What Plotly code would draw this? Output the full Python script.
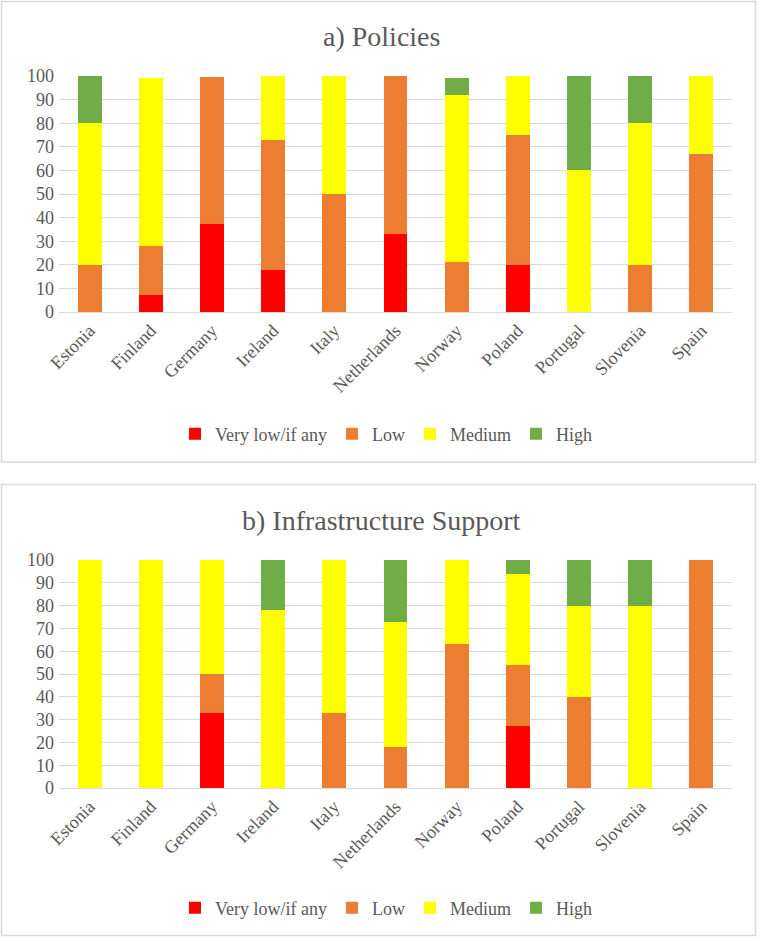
import plotly.graph_objects as go

countries = ["Estonia", "Finland", "Germany", "Ireland", "Italy", "Netherlands",
             "Norway", "Poland", "Portugal", "Slovenia", "Spain"]
levels = ["Very low/if any", "Low", "Medium", "High"]
colors = ["#FF0000", "#ED7D31", "#FFFF00", "#70AD47"]

# a) Policies
pol_very_low = [0, 7, 37.5, 18, 0, 33, 0, 20, 0, 0, 0]
pol_low = [20, 21, 62, 55, 50, 67, 21, 55, 0, 20, 67]
pol_medium = [60, 71, 0, 27, 50, 0, 71, 25, 60, 60, 33]
pol_high = [20, 0, 0, 0, 0, 0, 7, 0, 40, 20, 0]

# b) Infrastructure Support
inf_very_low = [0, 0, 33, 0, 0, 0, 0, 27, 0, 0, 0]
inf_low = [0, 0, 17, 0, 33, 18, 63, 27, 40, 0, 100]
inf_medium = [100, 100, 50, 78, 67, 55, 37, 40, 40, 80, 0]
inf_high = [0, 0, 0, 22, 0, 27, 0, 6, 20, 20, 0]

y_ticks = list(range(0, 101, 10))

W, H = 762, 941
FONT = "Liberation Serif, Times New Roman, serif"
TXT = "#595959"
GRID = "#D9D9D9"

fig = go.Figure()

pol = [pol_very_low, pol_low, pol_medium, pol_high]
inf = [inf_very_low, inf_low, inf_medium, inf_high]
for name, vals, col in zip(levels, pol, colors):
    fig.add_trace(go.Bar(x=countries, y=vals, name=name, marker=dict(color=col, line=dict(width=0)),
                         xaxis="x", yaxis="y", legend="legend"))
for name, vals, col in zip(levels, inf, colors):
    fig.add_trace(go.Bar(x=countries, y=vals, name=name, marker=dict(color=col, line=dict(width=0)),
                         xaxis="x2", yaxis="y2", legend="legend2"))

def py(p):
    return 1 - p / H

def px(p):
    return p / W

xdom = [px(59), px(732)]
axis_common = dict(tickfont=dict(family=FONT, size=18, color=TXT), automargin=False)

fig.update_layout(
    width=W, height=H,
    margin=dict(l=0, r=0, t=0, b=0, pad=0, autoexpand=False),
    paper_bgcolor="white", plot_bgcolor="white",
    barmode="stack", bargap=0.61,
    font=dict(family=FONT, color=TXT),
    showlegend=True,
    xaxis=dict(domain=xdom, anchor="y", tickangle=-45, showline=True, linecolor=GRID,
               linewidth=1, showgrid=False, ticks="", **axis_common),
    yaxis=dict(domain=[py(312), py(76)], anchor="x", range=[0, 100], tickvals=y_ticks,
               showgrid=True, gridcolor=GRID, gridwidth=1, zeroline=False, ticks="",
               ticklabelstandoff=4, **axis_common),
    xaxis2=dict(domain=xdom, anchor="y2", tickangle=-45, showline=True, linecolor=GRID,
                linewidth=1, showgrid=False, ticks="", **axis_common),
    yaxis2=dict(domain=[py(788), py(560)], anchor="x2", range=[0, 100], tickvals=y_ticks,
                showgrid=True, gridcolor=GRID, gridwidth=1, zeroline=False, ticks="",
                ticklabelstandoff=4, **axis_common),
    legend=dict(orientation="h", x=px(386), xanchor="center", y=py(434), yanchor="middle",
                font=dict(family=FONT, size=18, color=TXT), traceorder="normal",
                itemwidth=30, bgcolor="rgba(0,0,0,0)"),
    legend2=dict(orientation="h", x=px(386), xanchor="center", y=py(908), yanchor="middle",
                 font=dict(family=FONT, size=18, color=TXT), traceorder="normal",
                 itemwidth=30, bgcolor="rgba(0,0,0,0)"),
    annotations=[
        dict(text="a) Policies", x=px(381), y=py(37), xref="paper", yref="paper",
             showarrow=False, xanchor="center", yanchor="middle",
             font=dict(family=FONT, size=28, color=TXT)),
        dict(text="b) Infrastructure Support", x=px(381), y=py(520), xref="paper", yref="paper",
             showarrow=False, xanchor="center", yanchor="middle",
             font=dict(family=FONT, size=28, color=TXT)),
    ],
    shapes=[
        dict(type="rect", xref="paper", yref="paper", x0=px(1.5), x1=px(755.5),
             y0=py(462), y1=py(1.5), line=dict(color=GRID, width=1.5), layer="below"),
        dict(type="rect", xref="paper", yref="paper", x0=px(1.5), x1=px(755.5),
             y0=py(935.5), y1=py(484.5), line=dict(color=GRID, width=1.5), layer="below"),
    ],
)

fig.write_html(
    "out.html",
    config={"displayModeBar": False},
    post_script="document.body.style.margin='0px';document.body.style.overflow='hidden';",
)
